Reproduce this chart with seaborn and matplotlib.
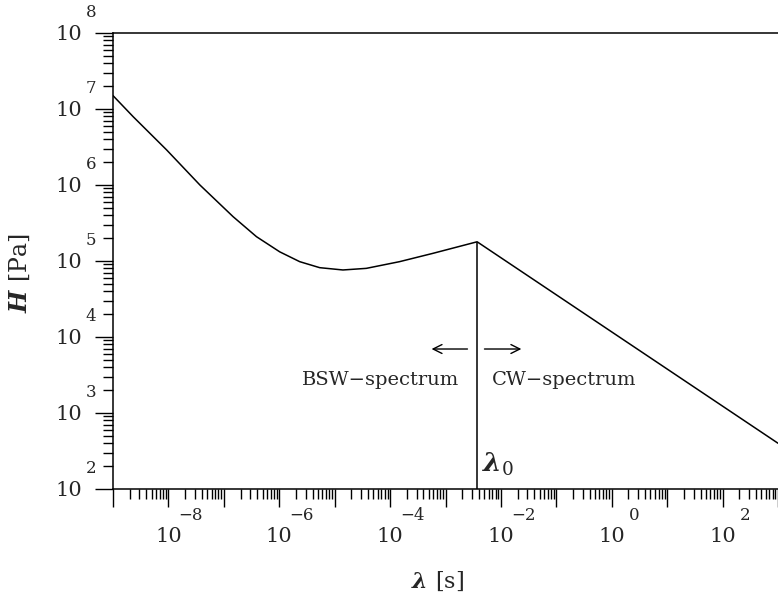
import matplotlib
matplotlib.use("Agg")
import matplotlib.pyplot as plt
import matplotlib.ticker as mticker
import numpy as np
import pandas as pd
import seaborn as sns

# Relaxation time spectrum H(lambda): BSW branch up to lambda_0, CW branch beyond
lam = [1.0e-9, 2.32e-9, 9.3e-9, 3.70e-8, 1.47e-7, 3.88e-7, 1.02e-6, 2.34e-6,
       5.37e-6, 1.41e-5, 3.72e-5, 1.48e-4, 5.9e-4, 3.72e-3, 1.0e3]
H = [1.5e7, 7.9e6, 2.89e6, 1.0e6, 3.83e5, 2.09e5, 1.32e5, 9.8e4,
     8.17e4, 7.62e4, 8.0e4, 9.8e4, 1.26e5, 1.79e5, 4.0e2]
i_peak = 13  # index of lambda_0

x_exponents = [-8, -6, -4, -2, 0, 2]
y_exponents = [2, 3, 4, 5, 6, 7, 8]

sns.set_style("ticks")
plt.rcParams["font.family"] = ["DejaVu Serif"]
plt.rcParams["mathtext.fontset"] = "custom"
plt.rcParams["mathtext.rm"] = "DejaVu Serif"
plt.rcParams["mathtext.it"] = "DejaVu Serif:italic:bold"
plt.rcParams["mathtext.bf"] = "DejaVu Serif:bold"

fig = plt.figure(figsize=(7.78, 5.98), dpi=100)
ax = fig.add_axes([113 / 778, 1 - 489 / 598, 665 / 778, 456 / 598])

df = pd.DataFrame({"lam": lam, "H": H})
sns.lineplot(data=df, x="lam", y="H", color="black", linewidth=1.1,
             ax=ax, sort=False, estimator=None)

lam0, H0 = lam[i_peak], H[i_peak]
ax.set_xscale("log")
ax.set_yscale("log")
ax.set_xlim(1e-9, 1e3)
ax.set_ylim(1e2, 1e8)
ax.vlines(lam0, 1e2, H0, color="black", linewidth=1.1)

# spines and ticks
ax.spines["right"].set_visible(False)
for s in ("left", "bottom", "top"):
    ax.spines[s].set_linewidth(1.1)
    ax.spines[s].set_color("black")

for axis in (ax.xaxis, ax.yaxis):
    axis.set_major_locator(mticker.LogLocator(base=10, subs=(1.0,), numticks=30))
    axis.set_minor_locator(mticker.LogLocator(base=10, subs=np.arange(2, 10), numticks=30))
    axis.set_minor_formatter(mticker.NullFormatter())

def x_fmt(v, pos):
    e = int(round(np.log10(v)))
    return "10" if e in x_exponents else ""

def y_fmt(v, pos):
    e = int(round(np.log10(v)))
    return "10" if e in y_exponents else ""

ax.xaxis.set_major_formatter(mticker.FuncFormatter(x_fmt))
ax.yaxis.set_major_formatter(mticker.FuncFormatter(y_fmt))
ax.tick_params(which="both", direction="out", top=False, right=False,
               width=1.0, color="black")
ax.tick_params(which="major", length=13, labelsize=15)
ax.tick_params(which="minor", length=7.5)
ax.tick_params(axis="x", which="major", pad=14)
ax.tick_params(axis="y", which="major", pad=9)

# exponents placed above-right of each "10"
for e in x_exponents:
    ax.annotate(f"{e}".replace("-", "\u2212"), xy=(10.0 ** e, 0),
                xycoords=("data", "axes fraction"), xytext=(16, -19),
                textcoords="offset points", ha="center", va="center",
                fontsize=12)
for e in y_exponents:
    ax.annotate(f"{e}", xy=(0, 10.0 ** e), xycoords=("axes fraction", "data"),
                xytext=(-16, 14.5), textcoords="offset points",
                ha="center", va="center", fontsize=12)

ax.set_xlabel(r"$\lambda\ \mathrm{[s]}$", fontsize=16)
ax.xaxis.set_label_coords(0.488, -0.178)
ax.set_ylabel(r"$H\ \mathrm{[Pa]}$", fontsize=17)
ax.yaxis.set_label_coords(-0.122, 0.474)

# annotations around lambda_0
ax.annotate("", xy=(5.6e-4, 6.95e3), xytext=(2.49e-3, 6.95e3),
            arrowprops=dict(arrowstyle="->", lw=1.0, color="black",
                            mutation_scale=16, shrinkA=0, shrinkB=0))
ax.annotate("", xy=(2.34e-2, 6.95e3), xytext=(5.05e-3, 6.95e3),
            arrowprops=dict(arrowstyle="->", lw=1.0, color="black",
                            mutation_scale=16, shrinkA=0, shrinkB=0))
ax.text(1.79e-3, 2.72e3, "BSW\u2212spectrum", ha="right", va="center", fontsize=14)
ax.text(7.0e-3, 2.72e3, "CW\u2212spectrum", ha="left", va="center", fontsize=14)
ax.text(4.65e-3, 167, r"$\lambda_0$", ha="left", va="baseline", fontsize=19)

fig.savefig("out.png", dpi=100, facecolor="white")
